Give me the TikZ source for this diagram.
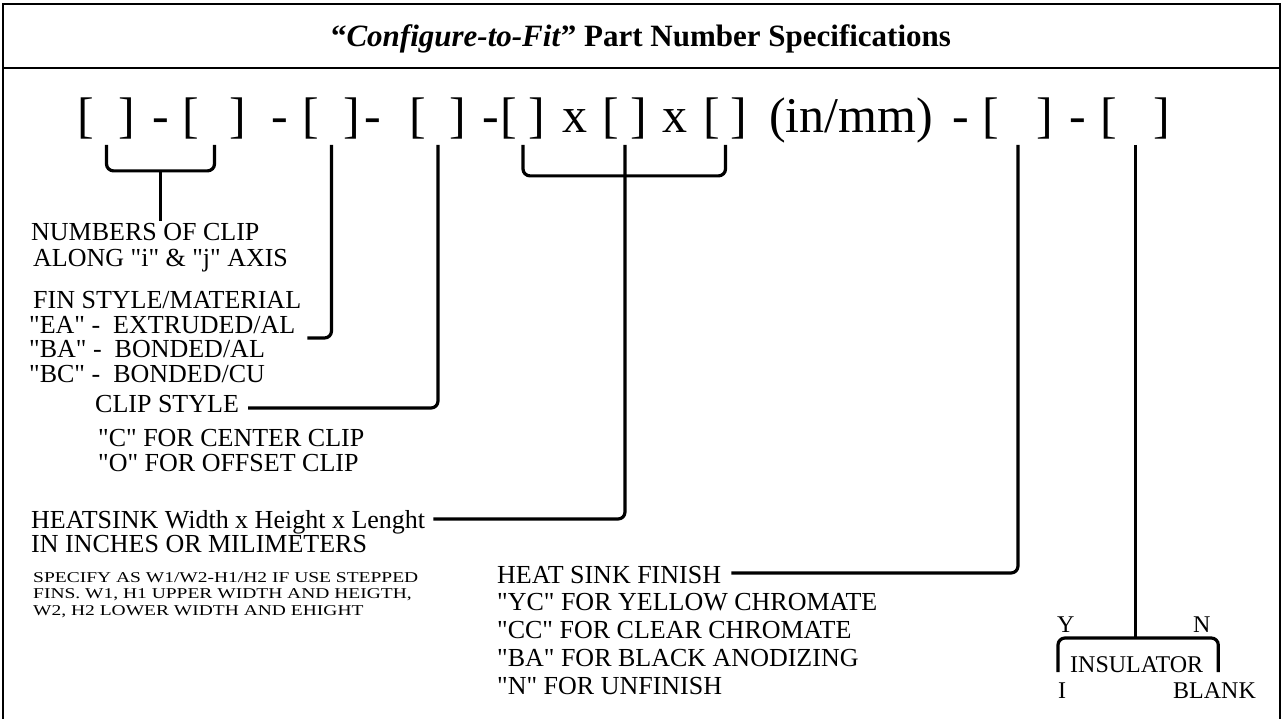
\documentclass[tikz,border=0pt]{standalone}
\usepackage{fontspec}
\setmainfont{Liberation Serif}[Ligatures=TeXOff]
\newfontfamily\notefont{Liberation Serif}[FakeStretch=1.3, Ligatures=TeXOff]
\usetikzlibrary{calc}

\begin{document}
\begin{tikzpicture}[x=1pt, y=-1pt,
        frame/.style={line width=2.8pt},
        lead/.style={line width=3.2pt, rounded corners=7pt},
        code/.style={font=\fontsize{50}{50}\selectfont, inner sep=0pt, anchor=base},
        lbl/.style={font=\fontsize{26}{28}\selectfont, inner sep=0pt, anchor=base west},
        tag/.style={font=\fontsize{24}{26}\selectfont, inner sep=0pt, anchor=base west},
        note/.style={font=\notefont\fontsize{15}{16.5}\selectfont, inner sep=0pt, anchor=base west}
    ]
        \useasboundingbox (0,0) rectangle (1283,719);

        % Frame and title
        \draw[frame] (3,719) -- (3,4) -- (1280,4) -- (1280,719);
        \draw[frame] (3,68) -- (1280,68);
        \node[inner sep=0pt, anchor=base, font=\fontsize{31}{33}\selectfont\bfseries] (title) at (641,47)
            {“\textit{Configure-to-Fit}” Part Number Specifications};

        % Part number code
        \foreach \x/\g [count=\i] in {86/{[},127/{]},161/-,191/{[},238/{]},280/-,311/{[},352/{]},373/-,
            418/{[},458/{]},491/-,509/{[},537/{]},575/x,611/{[},639/{]},675/x,712/{[},739/{]},
            851/{(in/mm)},961/-,991/{[},1045/{]},1078/-,1109/{[},1162/{]}}
            \node[code] (c\i) at (\x,133) {\g};

        % Slots below the code
        \coordinate (s1) at ($(c1.south)!.5!(c2.south)+(0,5)$);
        \coordinate (s2) at ($(c4.south)!.5!(c5.south)+(0,5)$);
        \coordinate (s3) at ($(c7.south)!.5!(c8.south)+(0,5)$);
        \coordinate (s4) at ($(c10.south)!.5!(c11.south)+(0,5)$);
        \coordinate (s5) at ($(c13.south)!.5!(c14.south)+(0,5)$);
        \coordinate (s6) at ($(c16.south)!.5!(c17.south)+(0,5)$);
        \coordinate (s7) at ($(c19.south)!.5!(c20.south)+(0,5)$);
        \coordinate (s8) at ($(c23.south)!.5!(c24.south)+(0,5)$);
        \coordinate (s9) at ($(c26.south)!.5!(c27.south)+(0,5)$);

        % Labels
        \node[lbl] (num1) at (31,241) {NUMBERS OF CLIP};
        \node[lbl] (num2) at (33,267) {ALONG "i" \& "j" AXIS};

        \node[lbl] (fin1) at (33,309) {FIN STYLE/MATERIAL};
        \node[lbl] (fin2) at (29,334) {"EA" -\ \ EXTRUDED/AL};
        \node[lbl] (fin3) at (29,358) {"BA" -\ \ BONDED/AL};
        \node[lbl] (fin4) at (29,382) {"BC" -\ \ BONDED/CU};

        \node[lbl] (clip1) at (95,413) {CLIP STYLE};
        \node[lbl] (clip2) at (98,446) {"C" FOR CENTER CLIP};
        \node[lbl] (clip3) at (98,471) {"O" FOR OFFSET CLIP};

        \node[lbl] (hs1) at (31,528) {HEATSINK Width x Height x Lenght};
        \node[lbl] (hs2) at (31,552) {IN INCHES OR MILIMETERS};
        \node[note] (hs3) at (33,582) {SPECIFY AS W1/W2-H1/H2 IF USE STEPPED};
        \node[note] (hs4) at (33,598.5) {FINS. W1, H1 UPPER WIDTH AND HEIGTH,};
        \node[note] (hs5) at (33,615) {W2, H2 LOWER WIDTH AND EHIGHT};

        \node[lbl] (fsh1) at (497,583) {HEAT SINK FINISH};
        \node[lbl] (fsh2) at (497,610) {"YC" FOR YELLOW CHROMATE};
        \node[lbl] (fsh3) at (497,638) {"CC" FOR CLEAR CHROMATE};
        \node[lbl] (fsh4) at (497,666) {"BA" FOR BLACK ANODIZING};
        \node[lbl] (fsh5) at (497,694) {"N" FOR UNFINISH};

        \node[tag] (yes) at (1057,632) {Y};
        \node[tag] (no) at (1193,632) {N};
        \node[tag] (ins) at (1070,672) {INSULATOR};
        \node[tag] (insi) at (1058,698) {I};
        \node[tag] (blank) at (1173,698) {BLANK};

        % Connectors
        \draw[lead] (s1) -- ++(0,26) -| (s2);
        \coordinate (b1) at ($(s1)!.5!(s2)+(0,26)$);
        \draw[lead] (b1) -- ([yshift=3pt]b1 |- num1.north);
        \draw[lead] (s3) |- ([shift={(12,4)}]fin2.base east);
        \draw[lead] (s4) |- ([shift={(9,-5)}]clip1.base east);
        \draw[lead] (s5) -- ++(0,31) -| (s7);
        \draw[lead] (s6) |- ([shift={(8,-9)}]hs1.base east);
        \draw[lead] (s8) |- ([shift={(10,-10)}]fsh1.base east);
        \coordinate (itop) at ([yshift=34pt]ins.base west);
        \draw[lead] ([xshift=-12pt]ins.base west) -- ([xshift=-12pt]itop) -| ([xshift=15pt]ins.base east);
        \draw[lead] (s9) -- (s9 |- itop);
    \end{tikzpicture}
\end{document}
